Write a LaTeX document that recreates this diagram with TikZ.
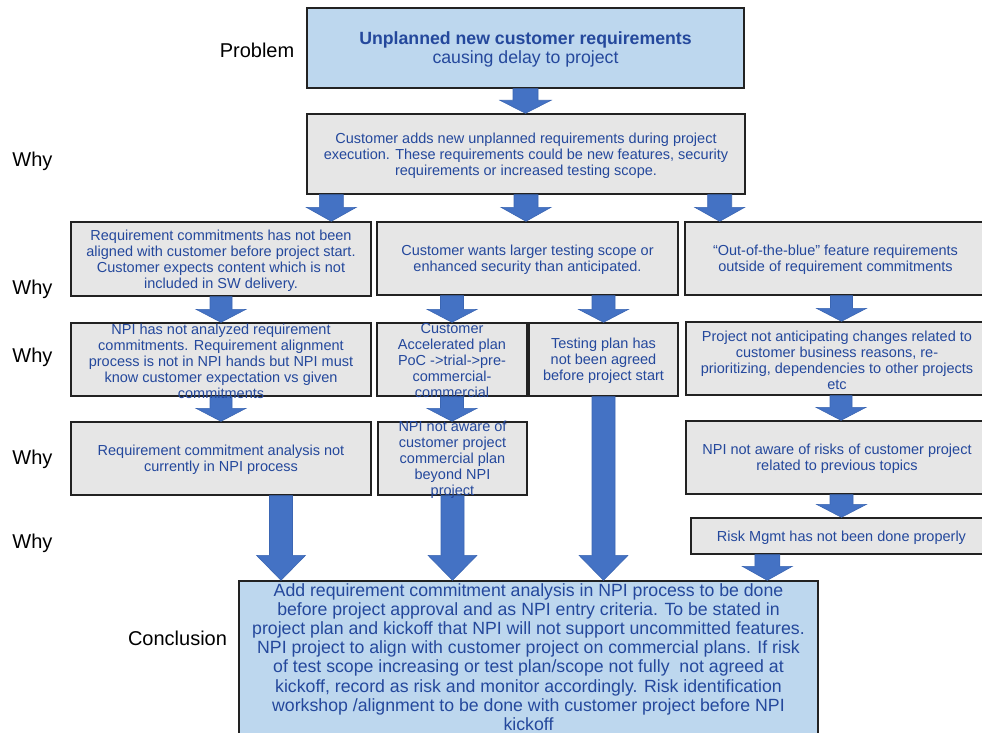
\documentclass[tikz,border=0pt]{standalone}
\usepackage{fontspec}
\setmainfont{Liberation Sans}
\usetikzlibrary{calc}

\definecolor{txtblue}{HTML}{24489C}
\definecolor{boxgray}{HTML}{E6E6E6}
\definecolor{boxblue}{HTML}{BDD7EE}
\definecolor{arrowblue}{HTML}{4472C4}
\definecolor{arrowedge}{HTML}{3B66B3}
\definecolor{boxedge}{HTML}{222222}

% block arrow: #1 start (x and y), #2 end (y only), #3 shaft half width,
% #4 head half width, #5 head length
\newcommand\flowarrow[5]{%
  \fill[arrowblue, draw=arrowedge, line width=0.6pt]
    let \p1=#1, \p2=#2 in
    (\x1-#3,\y1) -- (\x1-#3,\y2+#5) -- (\x1-#4,\y2+#5) -- (\x1,\y2)
    -- (\x1+#4,\y2+#5) -- (\x1+#3,\y2+#5) -- (\x1+#3,\y1) -- cycle;}

\tikzset{
  whybox/.style={draw=boxedge, line width=1.4pt, fill=boxgray, inner sep=0pt},
  bluebox/.style={whybox, fill=boxblue},
  boxtext/.style={align=center, inner sep=0pt, text=txtblue, yshift=-1.5pt,
    font=\fontsize{14.5}{16}\selectfont},
  bigtext/.style={align=center, inner sep=0pt, text=txtblue,
    font=\fontsize{17.7}{19.2}\selectfont},
  lbl/.style={inner sep=0pt, text=black, yshift=-2pt,
    font=\fontsize{20}{22}\selectfont},
}

\begin{document}
\begin{tikzpicture}[x=1pt,y=-1pt]
\useasboundingbox (0,0) rectangle (982,733);
\fill[white] (0,0) rectangle (982,733);
\clip (0,0) rectangle (982,733);

% side labels
\node[lbl] (l-prob) at (257,48) {Problem};
\node[lbl] (l-why1) at (32.5,159) {Why};
\node[lbl] (l-why2) at (32.5,287) {Why};
\node[lbl] (l-why3) at (32.5,355) {Why};
\node[lbl] (l-why4) at (32.5,457) {Why};
\node[lbl] (l-why5) at (32.5,541) {Why};
\node[lbl] (l-conc) at (177.5,636) {Conclusion};

% boxes
\node[bluebox, minimum width=437pt, minimum height=80pt] (P) at (525.5,48) {};
\node[whybox, minimum width=438pt, minimum height=80pt] (W1) at (526,154) {};
\node[whybox, minimum width=300pt, minimum height=74pt] (A) at (221,259) {};
\node[whybox, minimum width=301pt, minimum height=73pt] (B) at (527.5,258.5) {};
\node[whybox, minimum width=301pt, minimum height=73pt] (C) at (835.5,258.5) {};
\node[whybox, minimum width=300pt, minimum height=73pt] (D) at (221,359.5) {};
\node[whybox, minimum width=150pt, minimum height=73pt] (E) at (452,359.5) {};
\node[whybox, minimum width=149pt, minimum height=73pt] (F) at (603.5,359.5) {};
\node[whybox, minimum width=302pt, minimum height=73pt] (G) at (837,358.5) {};
\node[whybox, minimum width=300pt, minimum height=73pt] (H) at (221,458.5) {};
\node[whybox, minimum width=149pt, minimum height=73pt] (I) at (452.5,458.5) {};
\node[whybox, minimum width=302pt, minimum height=73pt] (J) at (837,457.5) {};
\node[whybox, minimum width=301pt, minimum height=36pt] (K) at (841.5,536) {};
\node[bluebox, minimum width=579pt, minimum height=154pt] (Conc) at (528.5,658) {};

% arrows between the levels
\flowarrow{(P.south)}{(W1.north)}{12.5pt}{25.5pt}{13pt}
\flowarrow{($(W1.south west)+(25,0)$)}{(A.north)}{12pt}{25pt}{14pt}
\flowarrow{(W1.south)}{(B.north)}{12pt}{25pt}{14pt}
\flowarrow{($(W1.south east)+(-26,0)$)}{(C.north)}{12pt}{25pt}{14pt}
\flowarrow{(A.south)}{(D.north)}{11pt}{25pt}{13pt}
\flowarrow{(E.north |- B.south)}{(E.north)}{11.5pt}{25pt}{13pt}
\flowarrow{(F.north |- B.south)}{(F.north)}{11.5pt}{25pt}{13pt}
\flowarrow{($(C.south)+(6,0)$)}{(G.north)}{11pt}{25pt}{13pt}
\flowarrow{(D.south)}{(H.north)}{11pt}{25pt}{13pt}
\flowarrow{(E.south)}{(I.north)}{11.5pt}{25pt}{13pt}
\flowarrow{($(G.south)+(4,0)$)}{(J.north)}{11pt}{25pt}{13pt}
\flowarrow{(K.north |- J.south)}{(K.north)}{11.5pt}{25pt}{13pt}
\flowarrow{($(H.south)+(60,0)$)}{(Conc.north)}{11.5pt}{24.5pt}{25pt}
\flowarrow{(I.south)}{(Conc.north)}{11.5pt}{24.5pt}{25pt}
\flowarrow{(F.south)}{(Conc.north)}{11.5pt}{24.5pt}{25pt}
\flowarrow{($(K.south west)+(77,0)$)}{(Conc.north)}{12.5pt}{25pt}{14pt}

% box texts
\node[bigtext, yshift=-1.5pt] (P-t) at (P.center) {{\bfseries Unplanned new customer requirements}\\causing delay to project};
\node[boxtext] (W1-t) at (W1.center) {Customer adds new unplanned requirements during project\\execution. These requirements could be new features, security\\requirements or increased testing scope.};
\node[boxtext] (A-t) at (A.center) {Requirement commitments has not been\\aligned with customer before project start.\\Customer expects content which is not\\included in SW delivery.};
\node[boxtext] (B-t) at (B.center) {Customer wants larger testing scope or\\enhanced security than anticipated.};
\node[boxtext] (C-t) at (C.center) {“Out-of-the-blue” feature requirements\\outside of requirement commitments};
\node[boxtext] (D-t) at (D.center) {NPI has not analyzed requirement\\commitments. Requirement alignment\\process is not in NPI hands but NPI must\\know customer expectation vs given\\commitments};
\node[boxtext] (E-t) at (E.center) {Customer\\Accelerated plan\\PoC ->trial->pre-\\commercial-\\commercial};
\node[boxtext] (F-t) at (F.center) {Testing plan has\\not been agreed\\before project start};
\node[boxtext] (G-t) at (G.center) {Project not anticipating changes related to\\customer business reasons, re-\\prioritizing, dependencies to other projects\\etc};
\node[boxtext] (H-t) at (H.center) {Requirement commitment analysis not\\currently in NPI process};
\node[boxtext] (I-t) at (I.center) {NPI not aware of\\customer project\\commercial plan\\beyond NPI\\project};
\node[boxtext] (J-t) at (J.center) {NPI not aware of risks of customer project\\related to previous topics};
\node[boxtext] (K-t) at (K.center) {Risk Mgmt has not been done properly};
\node[bigtext] (Conc-t) at (528.5,657) {Add requirement commitment analysis in NPI process to be done\\before project approval and as NPI entry criteria. To be stated in\\project plan and kickoff that NPI will not support uncommitted features.\\NPI project to align with customer project on commercial plans. If risk\\of test scope increasing or test plan/scope not fully \ not agreed at\\kickoff, record as risk and monitor accordingly. Risk identification\\workshop /alignment to be done with customer project before NPI\\kickoff};
\end{tikzpicture}
\end{document}
